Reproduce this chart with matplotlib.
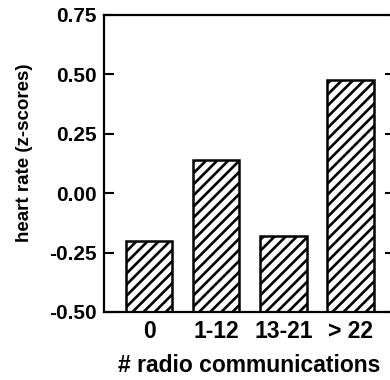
import matplotlib.pyplot as plt
import numpy as np

categories = ["0", "1-12", "13-21", "> 22"]
values = [-0.20, 0.14, -0.18, 0.475]
yticks = [-0.50, -0.25, 0.00, 0.25, 0.50, 0.75]

plt.rcParams['font.family'] = ['Liberation Sans', 'DejaVu Sans']
plt.rcParams['hatch.linewidth'] = 1.9

fig = plt.figure(figsize=(3.9, 3.8), dpi=100)
ax = fig.add_axes([0.2667, 0.179, 0.746, 0.7816])

base = -0.5
x = np.arange(len(categories))
heights = [v - base for v in values]
ax.bar(x, heights, bottom=base, width=0.69, color='white',
       edgecolor='black', linewidth=1.8, hatch='///')

ax.set_xlim(-0.67, 3.66)
ax.set_ylim(-0.5, 0.75)
ax.set_yticks(yticks)
ax.set_yticklabels(["%.2f" % t for t in yticks], fontsize=15, fontweight='bold')
ax.set_xticks(x)
ax.set_xticklabels(categories, fontsize=16.5, fontweight='bold')
ax.tick_params(axis='x', length=0, pad=6)
ax.tick_params(axis='y', direction='in', length=7, width=1.5, right=True, pad=5)
for s in ax.spines.values():
    s.set_linewidth(1.6)

ax.set_xlabel("# radio communications", fontsize=16.5, fontweight='bold', labelpad=8)
ax.set_ylabel("heart rate (z-scores)", fontsize=13.5, fontweight='bold')
ax.yaxis.set_label_coords(-0.245, 0.535)

plt.savefig('out.png', dpi=100)
